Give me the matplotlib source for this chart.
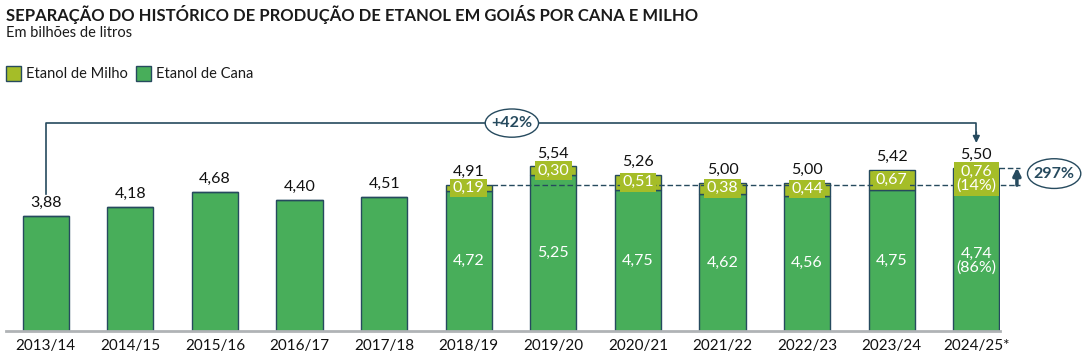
import numpy as np
import matplotlib.pyplot as plt
from matplotlib.patches import Ellipse

plt.rcParams['font.family'] = ['Lato', 'DejaVu Sans']

#%% Dados
safras = ['2013/14', '2014/15', '2015/16', '2016/17', '2017/18', '2018/19',
          '2019/20', '2020/21', '2021/22', '2022/23', '2023/24', '2024/25*']
cana = [3.88, 4.18, 4.68, 4.40, 4.51, 4.72, 5.25, 4.75, 4.62, 4.56, 4.75, 4.74]
milho = [0, 0, 0, 0, 0, 0.19, 0.30, 0.51, 0.38, 0.44, 0.67, 0.76]
total = [3.88, 4.18, 4.68, 4.40, 4.51, 4.91, 5.54, 5.26, 5.00, 5.00, 5.42, 5.50]
rot_cana = ['', '', '', '', '', '4,72', '5,25', '4,75', '4,62', '4,56', '4,75', '4,74\n(86%)']
rot_milho = ['', '', '', '', '', '0,19', '0,30', '0,51', '0,38', '0,44', '0,67', '0,76\n(14%)']

cor_cana = '#48ae5a'
cor_milho = '#a5bd28'
cor_borda = '#264a5e'

#%% Figura
W, H = 1082, 361
fig = plt.figure(figsize=(W / 100, H / 100), dpi=100)
px = 29.7  # pixels por bilhão de litros
y0 = 331
ymax = 7.5
ax = fig.add_axes([6 / W, (H - y0) / H, 994 / W, ymax * px / H])
x = np.arange(len(safras))
ax.set_xlim(-0.47, 11.28)
ax.set_ylim(0, ymax)

larg = 0.545
ax.bar(x, cana, larg, color=cor_cana, edgecolor=cor_borda, linewidth=1, zorder=2)
ax.bar(x, milho, larg, bottom=cana, color=cor_milho, edgecolor=cor_borda, linewidth=1, zorder=2)

for i in range(len(safras)):
    ax.text(x[i], total[i] + 0.2, f'{total[i]:.2f}'.replace('.', ','), ha='center', va='bottom',
            fontsize=11.5, color='#111111', zorder=5)
    if rot_cana[i]:
        ax.text(x[i], cana[i] / 2, rot_cana[i], ha='center', va='center', fontsize=11.5,
                color='white', linespacing=1.0, zorder=5)
    if rot_milho[i]:
        ax.text(x[i], cana[i] + milho[i] / 2, rot_milho[i], ha='center', va='center', fontsize=11.5,
                color='white', linespacing=1.0, zorder=6,
                bbox=dict(boxstyle='square,pad=0.15', fc=cor_milho, ec='none'))

# linha tracejada de referência e seta 297%
ax.plot([x[5] + larg / 2, 11.52], [total[5], total[5]], color=cor_borda, lw=1, ls=(0, (4, 2)),
        zorder=3, clip_on=False)
ax.plot([x[11] + larg / 2, 11.52], [total[11], total[11]], color=cor_borda, lw=1, ls=(0, (4, 2)),
        zorder=3, clip_on=False)
ax.annotate('', xy=(11.48, total[11]), xytext=(11.48, total[5]),
            arrowprops=dict(arrowstyle='-|>', color=cor_borda, lw=2.5, mutation_scale=11,
                            shrinkA=0, shrinkB=0),
            annotation_clip=False)
ax.add_patch(Ellipse((11.92, 5.3), 0.63, 1.0, fc='white', ec=cor_borda, lw=1, clip_on=False))
ax.text(11.92, 5.3, '297%', ha='center', va='center', fontsize=11.5, fontweight='bold',
        color=cor_borda, clip_on=False)

# colchete +42%
yb = 7.0
ax.plot([x[0], x[0], x[11], x[11]], [4.6, yb, yb, 6.6], color=cor_borda, lw=1.2, zorder=3)
ax.annotate('', xy=(x[11], 6.33), xytext=(x[11], 6.7),
            arrowprops=dict(arrowstyle='-|>', color=cor_borda, lw=1.2, mutation_scale=10,
                            shrinkA=0, shrinkB=0))
ax.add_patch(Ellipse((5.51, yb), 0.63, 0.95, fc='white', ec=cor_borda, lw=1, zorder=4))
ax.text(5.51, yb, '+42%', ha='center', va='center', fontsize=11.5, fontweight='bold',
        color=cor_borda, zorder=5)

# eixos
for s in ['top', 'right', 'left']:
    ax.spines[s].set_visible(False)
ax.spines['bottom'].set_color('#b0b3b6')
ax.spines['bottom'].set_linewidth(2)
ax.set_yticks([])
ax.set_xticks(x)
ax.set_xticklabels(safras, fontsize=11, color='#111111')
ax.tick_params(axis='x', length=0, pad=6)

# título e legenda
fig.text(6 / W, 1 - 14 / H, 'SEPARAÇÃO DO HISTÓRICO DE PRODUÇÃO DE ETANOL EM GOIÁS POR CANA E MILHO',
         fontsize=12, fontweight='bold', color='#1a1a1a', va='center')
fig.text(6 / W, 1 - 33 / H, 'Em bilhões de litros', fontsize=10.5, color='#1a1a1a', va='center')
render = fig.canvas.get_renderer()
xq = 6
for cor, rot in [(cor_milho, 'Etanol de Milho'), (cor_cana, 'Etanol de Cana')]:
    fig.patches.append(plt.Rectangle((xq / W, 1 - 81 / H), 15 / W, 15 / H, transform=fig.transFigure,
                                     fc=cor, ec=cor_borda, lw=1))
    t = fig.text((xq + 20) / W, 1 - 74 / H, rot, fontsize=10.5, color='#1a1a1a', va='center')
    xq = t.get_window_extent(render).x1 + 8

plt.savefig('out.png', dpi=100)
